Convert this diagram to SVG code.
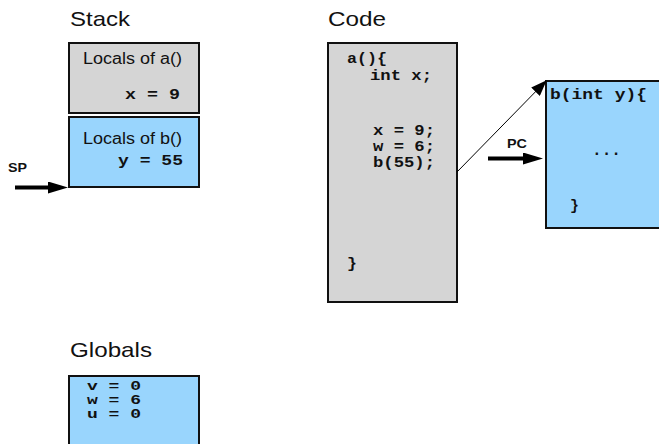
<svg xmlns="http://www.w3.org/2000/svg" width="659" height="444" viewBox="0 0 659 444">
<style>
.title{font-family:"Liberation Sans",Arial,sans-serif;font-size:21px;fill:#111}
.lab{font-family:"Liberation Sans",Arial,sans-serif;font-size:16px;fill:#111}
.bl{font-family:"Liberation Sans",Arial,sans-serif;font-size:12px;font-weight:bold;fill:#111}
.mono{font-family:"Liberation Mono","Courier New",monospace;font-size:14.5px;font-weight:bold;fill:#111}
.gm{font-family:"Liberation Mono","Courier New",monospace;font-size:13.5px;font-weight:bold;fill:#111}
.gray{fill:#d5d5d5;stroke:#111;stroke-width:2}
.blue{fill:#99d5fd;stroke:#111;stroke-width:2}
</style>
<defs>
<marker id="big" markerUnits="userSpaceOnUse" markerWidth="20" markerHeight="12" refX="4" refY="6" orient="auto">
<path d="M0,0 L20,6 L0,12 z" fill="#000"/>
</marker>
<marker id="thin" markerUnits="userSpaceOnUse" markerWidth="16" markerHeight="12" refX="15" refY="6" orient="auto">
<path d="M0,0 L16,6 L0,12 z" fill="#000"/>
</marker>
</defs>
<rect width="659" height="444" fill="#fff"/>
<text class="title" x="70" y="26" textLength="60" lengthAdjust="spacingAndGlyphs">Stack</text>
<text class="title" x="328" y="26" textLength="58" lengthAdjust="spacingAndGlyphs">Code</text>
<text class="title" x="70" y="357" textLength="82" lengthAdjust="spacingAndGlyphs">Globals</text>
<g id="stack-a">
<rect class="gray" x="69" y="43" width="130" height="70"/>
<text class="lab" x="83" y="64" textLength="99" lengthAdjust="spacingAndGlyphs">Locals of a()</text>
<text class="mono" x="125" y="99" textLength="55" lengthAdjust="spacingAndGlyphs">x = 9</text>
</g>
<g id="stack-b">
<rect class="blue" x="69" y="117" width="130" height="70"/>
<text class="lab" x="83" y="144" textLength="99" lengthAdjust="spacingAndGlyphs">Locals of b()</text>
<text class="mono" x="118" y="165" textLength="65" lengthAdjust="spacingAndGlyphs">y = 55</text>
</g>
<g id="sp">
<text class="bl" x="8" y="172" textLength="19" lengthAdjust="spacingAndGlyphs">SP</text>
</g>
<g id="code-a">
<rect class="gray" x="328" y="43" width="129" height="259"/>
<text class="mono" x="347" y="63" textLength="40" lengthAdjust="spacingAndGlyphs">a(){</text>
<text class="mono" x="370" y="80" textLength="62" lengthAdjust="spacingAndGlyphs">int x;</text>
<text class="mono" x="373" y="135" textLength="62" lengthAdjust="spacingAndGlyphs">x = 9;</text>
<text class="mono" x="373" y="151" textLength="62" lengthAdjust="spacingAndGlyphs">w = 6;</text>
<text class="mono" x="373" y="167" textLength="62" lengthAdjust="spacingAndGlyphs">b(55);</text>
<text class="mono" x="347" y="268" textLength="10" lengthAdjust="spacingAndGlyphs">}</text>
</g>
<g id="code-b">
<rect class="blue" x="546" y="81" width="125" height="147"/>
<text class="mono" x="550" y="99" textLength="97" lengthAdjust="spacingAndGlyphs">b(int y){</text>
<text class="mono" x="592" y="155" textLength="29" lengthAdjust="spacingAndGlyphs" style="font-size:17px">...</text>
<text class="mono" x="570" y="210" textLength="9" lengthAdjust="spacingAndGlyphs">}</text>
</g>
<g id="pc">
<text class="bl" x="507" y="148" textLength="20" lengthAdjust="spacingAndGlyphs">PC</text>
</g>
<g id="globals">
<rect class="blue" x="69" y="376" width="130" height="80"/>
<text class="gm" x="87" y="390" textLength="54" lengthAdjust="spacingAndGlyphs">v = 0</text>
<text class="gm" x="87" y="404" textLength="54" lengthAdjust="spacingAndGlyphs">w = 6</text>
<text class="gm" x="87" y="418" textLength="54" lengthAdjust="spacingAndGlyphs">u = 0</text>
</g>
<g id="connectors" stroke="#000" fill="none">
<line x1="15" y1="187.5" x2="52" y2="187.5" stroke-width="4" marker-end="url(#big)"/>
<line x1="488" y1="158.5" x2="527" y2="158.5" stroke-width="4" marker-end="url(#big)"/>
<line x1="457" y1="172" x2="546" y2="81" stroke-width="1" marker-end="url(#thin)"/>
</g>
</svg>
